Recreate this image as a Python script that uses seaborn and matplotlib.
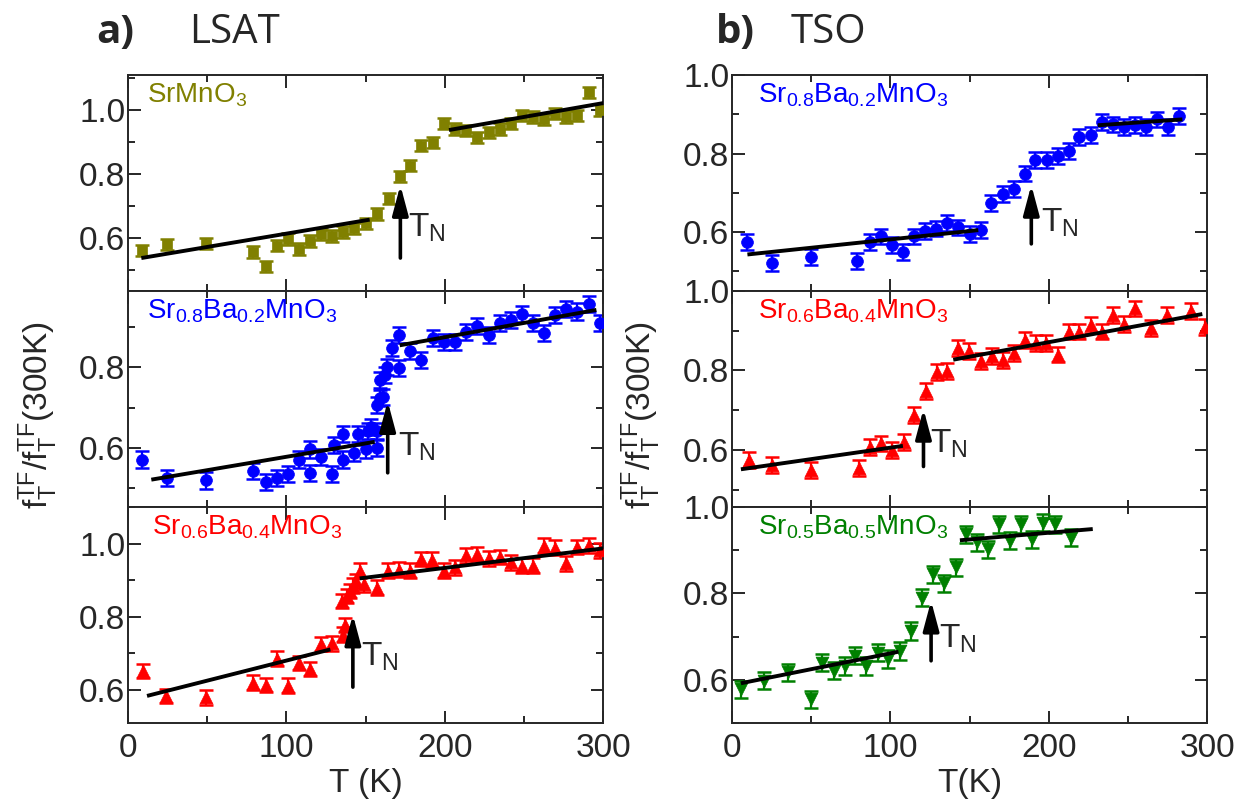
import matplotlib
matplotlib.use("Agg")
import matplotlib.pyplot as plt
import seaborn as sns
import pandas as pd
from matplotlib.ticker import MultipleLocator, FormatStrFormatter

# ---- LSAT substrate ----
smo_T = [9, 24.6, 49.5, 79, 87, 94, 101, 108, 115, 122, 129, 136, 143, 150, 157, 164.6, 171.6, 178,
         185, 192.6, 199.6, 206.7, 213.7, 220.6, 227.8, 234.7, 241.7, 248.8, 255.8, 262.7, 269.9,
         276.8, 283.8, 291, 298]
smo_f = [0.562, 0.581, 0.583, 0.557, 0.512, 0.577, 0.597, 0.567, 0.591, 0.613, 0.607, 0.62, 0.631,
         0.646, 0.676, 0.724, 0.793, 0.827, 0.889, 0.899, 0.958, 0.942, 0.936, 0.915, 0.931, 0.942,
         0.958, 0.984, 0.979, 0.971, 0.989, 0.979, 0.984, 1.056, 1.0]
smo_err = 0.018
smo_fit_T = [[8.4, 152.6], [202.7, 301]]
smo_fit_f = [[0.538, 0.658], [0.938, 1.023]]
smo_tn = [172, 0.766, 0.538]   # T, arrow tip, arrow tail
smo_tn_lbl = [177, 0.632]

sb2_T = [9, 24.6, 49.5, 79, 87, 94, 101, 108, 115, 115.2, 122, 129, 130, 136, 136, 143, 145, 150,
         151.6, 153.7, 157, 157, 157, 159, 161, 159.4, 162, 163.8, 167, 171, 171, 178, 185, 192.6,
         199.6, 206.7, 213.7, 220.6, 227.8, 234.7, 241.7, 248.8, 255.8, 262.7, 269.9, 276.8, 283.8,
         291, 298]
sb2_f = [0.571, 0.526, 0.519, 0.542, 0.516, 0.524, 0.536, 0.571, 0.538, 0.596, 0.577, 0.536, 0.608,
         0.635, 0.571, 0.588, 0.635, 0.596, 0.641, 0.651, 0.643, 0.6, 0.707, 0.724, 0.726, 0.769,
         0.782, 0.802, 0.848, 0.881, 0.798, 0.84, 0.819, 0.873, 0.864, 0.863, 0.889, 0.902, 0.881,
         0.91, 0.918, 0.932, 0.91, 0.885, 0.931, 0.945, 0.939, 0.957, 0.91]
sb2_err = 0.02
sb2_fit_T = [[14.7, 155.8], [171.6, 295.8]]
sb2_fit_f = [[0.521, 0.615], [0.855, 0.943]]
sb2_tn = [164, 0.716, 0.538]
sb2_tn_lbl = [170.5, 0.602]

sb4_T = [9.5, 24, 49.5, 79, 87, 94, 101, 108, 115, 122, 129, 136, 137, 135, 138, 140, 142, 144,
         146.7, 149, 157, 164, 171, 178, 185, 192, 199.6, 206.7, 213.7, 220.6, 227.8, 234.7, 241.7,
         248.8, 255.8, 262.7, 269.9, 276.8, 283.8, 291, 298]
sb4_f = [0.652, 0.584, 0.58, 0.62, 0.614, 0.686, 0.612, 0.674, 0.658, 0.726, 0.728, 0.751, 0.778,
         0.843, 0.857, 0.871, 0.885, 0.898, 0.926, 0.889, 0.88, 0.926, 0.929, 0.926, 0.958, 0.956,
         0.926, 0.935, 0.968, 0.972, 0.96, 0.963, 0.949, 0.94, 0.94, 0.994, 0.989, 0.946, 0.991,
         0.995, 0.982]
sb4_err = 0.02
sb4_fit_T = [[12, 127.8], [146.3, 302]]
sb4_fit_f = [[0.584, 0.711], [0.905, 0.988]]
sb4_tn = [142, 0.806, 0.608]
sb4_tn_lbl = [147.4, 0.691]

# ---- TSO substrate ----
tso2_T = [9.7, 25.5, 50, 79, 87.3, 94.2, 101, 108, 115, 122, 128.8, 136, 142.9, 150.2, 157, 163.8,
          171.2, 178, 184.8, 191.5, 198.8, 205.8, 212.7, 219.4, 226.7, 233.6, 240.8, 247.7, 254.6,
          261.3, 268.2, 275.4, 282.3]
tso2_f = [0.574, 0.521, 0.536, 0.526, 0.574, 0.589, 0.568, 0.549, 0.589, 0.602, 0.609, 0.623, 0.612,
          0.595, 0.606, 0.674, 0.697, 0.709, 0.749, 0.783, 0.783, 0.794, 0.806, 0.842, 0.847, 0.88,
          0.874, 0.868, 0.872, 0.868, 0.887, 0.868, 0.896]
tso2_err = 0.02
tso2_fit_T = [[9.7, 155.5], [231, 284.4]]
tso2_fit_f = [[0.543, 0.605], [0.872, 0.887]]
tso2_tn = [189, 0.72, 0.57]
tso2_tn_lbl = [195.3, 0.623]

tso4_T = [10.8, 25.5, 50, 80, 87.3, 94, 101, 108.3, 114.6, 122.2, 129.2, 136, 142.9, 149.8, 157,
          164.3, 171.2, 178.1, 184.8, 191.7, 198.4, 205.8, 212.7, 219.4, 226.7, 233.6, 240.8, 247.7,
          254.4, 264.9, 275, 289.6, 299]
tso4_f = [0.575, 0.562, 0.55, 0.554, 0.608, 0.616, 0.6, 0.62, 0.687, 0.749, 0.797, 0.798, 0.856,
          0.848, 0.823, 0.836, 0.827, 0.844, 0.877, 0.869, 0.869, 0.84, 0.898, 0.898, 0.914, 0.898,
          0.939, 0.918, 0.956, 0.906, 0.939, 0.949, 0.91]
tso4_err = 0.02
tso4_fit_T = [[5.6, 107.9], [139.7, 297]]
tso4_fit_f = [[0.551, 0.61], [0.827, 0.942]]
tso4_tn = [120.9, 0.703, 0.558]
tso4_tn_lbl = [125, 0.614]

tso5_T = [5.5, 20.2, 35.5, 50, 57, 64.3, 71.2, 77.9, 84.9, 91.9, 98.8, 106.2, 113.1, 119.8, 126.7,
          133.9, 141.2, 147.7, 154.8, 161.7, 168.7, 175.8, 182.7, 189.7, 196.3, 203.7, 214.1]
tso5_f = [0.578, 0.598, 0.617, 0.555, 0.64, 0.621, 0.632, 0.656, 0.632, 0.663, 0.648, 0.667, 0.713,
          0.79, 0.844, 0.823, 0.86, 0.937, 0.918, 0.902, 0.96, 0.922, 0.96, 0.925, 0.964, 0.96, 0.929]
tso5_err = 0.02
tso5_fit_T = [[5.6, 105.1], [143.9, 227.8]]
tso5_fit_f = [[0.592, 0.665], [0.923, 0.949]]
tso5_tn = [125.7, 0.783, 0.644]
tso5_tn_lbl = [130.9, 0.696]

sns.set_style("ticks")
plt.rcParams['font.family'] = ['Liberation Sans', 'DejaVu Sans']
plt.rcParams['mathtext.default'] = 'regular'

fig = plt.figure(figsize=(12.37, 8.1), dpi=100)

panel_h = 0.8 / 3
bottom0 = 0.1074
cols = {'left': 0.1035, 'right': 0.5918}
width = 0.384

panels = [
    ('left', 0, smo_T, smo_f, smo_err, smo_fit_T, smo_fit_f, smo_tn, smo_tn_lbl,
     '#808000', 's', 60, r'SrMnO$_3$', (0.435, 1.11), (0.04, 0.97)),
    ('left', 1, sb2_T, sb2_f, sb2_err, sb2_fit_T, sb2_fit_f, sb2_tn, sb2_tn_lbl,
     '#0000FF', 'o', 72, r'Sr$_{0.8}$Ba$_{0.2}$MnO$_3$', (0.453, 0.99), (0.04, 0.97)),
    ('left', 2, sb4_T, sb4_f, sb4_err, sb4_fit_T, sb4_fit_f, sb4_tn, sb4_tn_lbl,
     '#FF0000', '^', 85, r'Sr$_{0.6}$Ba$_{0.4}$MnO$_3$', (0.51, 1.1), (0.05, 0.97)),
    ('right', 0, tso2_T, tso2_f, tso2_err, tso2_fit_T, tso2_fit_f, tso2_tn, tso2_tn_lbl,
     '#0000FF', 'o', 72, r'Sr$_{0.8}$Ba$_{0.2}$MnO$_3$', (0.45, 1.0), (0.055, 0.97)),
    ('right', 1, tso4_T, tso4_f, tso4_err, tso4_fit_T, tso4_fit_f, tso4_tn, tso4_tn_lbl,
     '#FF0000', '^', 85, r'Sr$_{0.6}$Ba$_{0.4}$MnO$_3$', (0.456, 1.0), (0.055, 0.97)),
    ('right', 2, tso5_T, tso5_f, tso5_err, tso5_fit_T, tso5_fit_f, tso5_tn, tso5_tn_lbl,
     '#008000', 'v', 85, r'Sr$_{0.5}$Ba$_{0.5}$MnO$_3$', (0.5, 1.0), (0.055, 0.97)),
]

for col, row, T, f, err, fitT, fitf, tn, tnl, color, mk, ms, label, ylim, lpos in panels:
    ax = fig.add_axes([cols[col], bottom0 + (2 - row) * panel_h, width, panel_h])
    df = pd.DataFrame({'T': T, 'f': f})
    ax.errorbar(df['T'], df['f'], yerr=err, fmt='none', ecolor=color, elinewidth=1.6,
                capsize=5, capthick=1.8, zorder=2)
    sns.scatterplot(data=df, x='T', y='f', marker=mk, color=color, edgecolor=color, s=ms,
                    linewidth=0.5, ax=ax, zorder=3, legend=False)
    for seg_T, seg_f in zip(fitT, fitf):
        ax.plot(seg_T, seg_f, color='black', lw=2.8, zorder=4, solid_capstyle='butt')
    # T_N marker arrow
    ax.annotate('', xy=(tn[0], tn[1]), xytext=(tn[0], tn[2]),
                arrowprops=dict(arrowstyle='-|>,head_length=0.9,head_width=0.24', color='black',
                                lw=2.6, mutation_scale=20, shrinkA=0, shrinkB=0), zorder=5)
    ax.text(tnl[0], tnl[1], r'T$_\mathregular{N}$', fontsize=24, ha='left', va='center')
    ax.text(lpos[0], lpos[1], label, transform=ax.transAxes, fontsize=20, color=color,
            ha='left', va='top')

    ax.set_xlim(0, 300)
    ax.set_ylim(*ylim)
    ax.xaxis.set_major_locator(MultipleLocator(100))
    ax.xaxis.set_minor_locator(MultipleLocator(50))
    ax.yaxis.set_major_locator(MultipleLocator(0.2))
    ax.yaxis.set_minor_locator(MultipleLocator(0.1))
    ax.yaxis.set_major_formatter(FormatStrFormatter('%.1f'))
    ax.tick_params(which='both', direction='in', top=True, right=True, width=1.4,
                   labelsize=24, pad=2)
    ax.tick_params(which='major', length=9)
    ax.tick_params(which='minor', length=5)
    for sp in ax.spines.values():
        sp.set_linewidth(1.4)
    ax.set_xlabel('')
    ax.set_ylabel('')
    if row < 2:
        ax.tick_params(labelbottom=False)
    else:
        ax.tick_params(axis='x', pad=7)
        ax.set_xlabel('T (K)' if col == 'left' else 'T(K)', fontsize=24, labelpad=3)

ylab = r'f$_\mathregular{T}^\mathregular{TF}$/f$_\mathregular{T}^\mathregular{TF}$(300K)'
fig.text(0.031, 0.487, ylab, rotation=90, fontsize=24, ha='center', va='center')
fig.text(0.518, 0.487, ylab, rotation=90, fontsize=24, ha='center', va='center')

title_font = ['Open Sans', 'DejaVu Sans']
fig.text(0.078, 0.947, 'a)', fontsize=29, fontweight='bold', family=title_font)
fig.text(0.153, 0.947, 'LSAT', fontsize=29, family=title_font)
fig.text(0.579, 0.947, 'b)', fontsize=29, fontweight='bold', family=title_font)
fig.text(0.639, 0.947, 'TSO', fontsize=29, family=title_font)

fig.savefig('out.png', dpi=100)
